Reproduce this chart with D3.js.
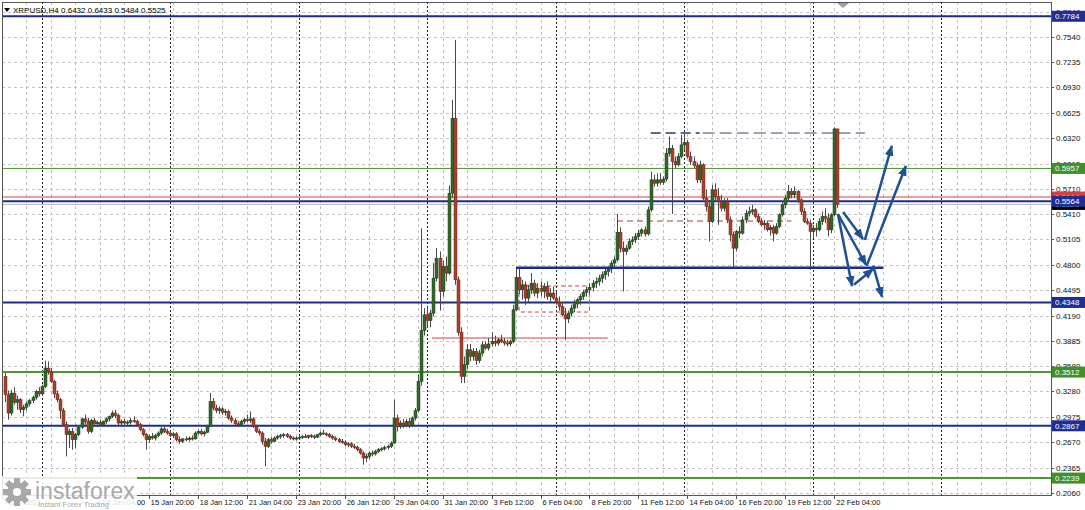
<!DOCTYPE html>
<html><head><meta charset="utf-8">
<script src="https://cdn.jsdelivr.net/npm/d3@7"></script>
<style>
body{margin:0;background:#fff;}
svg{display:block;}
text{font-family:"Liberation Sans",Arial,sans-serif;}
</style>
</head><body>
<svg id="c" width="1085" height="510"></svg>
<script>
// ---------------- DATA ----------------
const symbol = "XRPUSD,H4";
const open = [
.3460,.3240,.3020,.3260,.3150,.3180,.3060,.3090,.3130,.3170,
.3210,.3280,.3250,.3340,.3560,.3520,.3400,.3250,.3180,.3050,
.2880,.2760,.2800,.2700,.2760,.2850,.2950,.2920,.2800,.2930,
.2890,.2910,.2880,.2920,.2950,.2980,.3020,.2990,.2900,.2920,
.2900,.2910,.2930,.2920,.2880,.2820,.2760,.2700,.2740,.2720,
.2750,.2780,.2830,.2800,.2780,.2750,.2770,.2700,.2680,.2710,
.2700,.2720,.2710,.2780,.2800,.2770,.2790,.2860,.3160,.3080,
.3050,.3070,.3030,.3040,.2960,.2930,.2890,.2880,.2920,.2940,
.2930,.2950,.2860,.2800,.2780,.2680,.2620,.2700,.2680,.2720,
.2740,.2750,.2760,.2740,.2720,.2710,.2720,.2730,.2740,.2730,
.2750,.2740,.2730,.2760,.2780,.2770,.2760,.2740,.2720,.2700,
.2680,.2670,.2640,.2650,.2620,.2610,.2580,.2540,.2480,.2500,
.2540,.2530,.2560,.2580,.2590,.2610,.2620,.2660,.2960,.2860,
.2900,.2870,.2920,.2870,.2960,.3050,.3400,.4010,.4200,.4130,
.4220,.4640,.4880,.4480,.4780,.4700,.5660,.6560,.4620,.3990,
.3460,.3600,.3780,.3700,.3760,.3650,.3740,.3840,.3800,.3850,
.3880,.3860,.3900,.3880,.3860,.3850,.3880,.4260,.4650,.4500,
.4560,.4400,.4500,.4580,.4460,.4520,.4480,.4540,.4420,.4460,
.4400,.4350,.4300,.4200,.4150,.4220,.4280,.4330,.4380,.4420,
.4470,.4500,.4530,.4580,.4600,.4640,.4680,.4720,.4750,.4820,
.4860,.5190,.5000,.4960,.5000,.5080,.5100,.5140,.5180,.5220,
.5170,.5460,.5820,.5780,.5820,.5790,.5830,.6140,.6200,.6040,
.6000,.6100,.6240,.6270,.6100,.6040,.5990,.5820,.6000,.5600,
.5500,.5320,.5700,.5620,.5560,.5480,.5560,.5340,.5160,.5000,
.5200,.5180,.5340,.5420,.5440,.5460,.5380,.5320,.5280,.5300,
.5220,.5250,.5180,.5260,.5400,.5520,.5600,.5680,.5640,.5680,
.5580,.5440,.5320,.5300,.5200,.5240,.5220,.5320,.5380,.5360,
.5220,.5400,.6432];
const high = [
.3500,.3290,.3300,.3330,.3230,.3200,.3120,.3160,.3190,.3230,
.3300,.3330,.3360,.3650,.3640,.3560,.3420,.3290,.3200,.3080,
.2920,.2830,.2840,.2780,.2870,.2960,.3000,.2960,.2950,.2960,
.2930,.2940,.2930,.2970,.2990,.3050,.3060,.3010,.2940,.2950,
.2930,.2960,.2980,.2940,.2900,.2840,.2780,.2760,.2780,.2770,
.2800,.2850,.2860,.2830,.2810,.2790,.2790,.2740,.2720,.2740,
.2740,.2750,.2800,.2820,.2830,.2810,.2880,.3260,.3200,.3120,
.3100,.3090,.3070,.3060,.2990,.2960,.2920,.2940,.2960,.3000,
.3040,.2970,.2880,.2830,.2800,.2720,.2720,.2730,.2740,.2760,
.2770,.2780,.2780,.2760,.2740,.2740,.2750,.2760,.2770,.2760,
.2770,.2760,.2770,.2800,.2820,.2790,.2780,.2760,.2740,.2720,
.2710,.2690,.2670,.2670,.2650,.2630,.2600,.2560,.2530,.2560,
.2570,.2580,.2600,.2610,.2630,.2640,.2680,.3180,.3000,.2930,
.2950,.2950,.2960,.2980,.3080,.3480,.5240,.4280,.4300,.4260,
.4820,.5000,.4960,.4850,.4900,.5750,.6780,.7500,.4660,.4050,
.3700,.3850,.3850,.3800,.3800,.3780,.3880,.3880,.3920,.3990,
.3950,.3920,.3960,.3920,.3900,.3900,.4320,.4750,.4760,.4620,
.4600,.4560,.4700,.4620,.4580,.4600,.4580,.4600,.4520,.4540,
.4480,.4420,.4350,.4280,.4250,.4320,.4380,.4400,.4450,.4500,
.4540,.4580,.4620,.4650,.4680,.4720,.4760,.4780,.4850,.4900,
.5410,.5250,.5080,.5040,.5120,.5140,.5180,.5220,.5240,.5260,
.5500,.5920,.5880,.5900,.5900,.5860,.6200,.6340,.6240,.6100,
.6140,.6360,.6380,.6300,.6160,.6100,.6030,.6050,.6020,.5700,
.5580,.5760,.5780,.5720,.5640,.5600,.5600,.5380,.5200,.5220,
.5260,.5380,.5460,.5500,.5520,.5480,.5420,.5360,.5340,.5320,
.5280,.5280,.5300,.5420,.5560,.5640,.5760,.5720,.5740,.5700,
.5600,.5480,.5360,.5340,.5280,.5300,.5360,.5440,.5480,.5420,
.5420,.6450,.6433];
const low = [
.3150,.2940,.2990,.3120,.3060,.3020,.2980,.3050,.3100,.3140,
.3180,.3220,.3230,.3320,.3480,.3380,.3200,.3150,.2950,.2860,
.2500,.2600,.2580,.2600,.2740,.2830,.2880,.2770,.2780,.2860,
.2850,.2860,.2860,.2890,.2920,.2960,.2960,.2870,.2870,.2880,
.2870,.2880,.2900,.2860,.2800,.2740,.2580,.2660,.2700,.2690,
.2730,.2760,.2780,.2760,.2730,.2720,.2680,.2650,.2660,.2680,
.2680,.2690,.2700,.2760,.2750,.2740,.2780,.2850,.3050,.3020,
.3010,.3000,.2990,.2940,.2900,.2870,.2850,.2860,.2890,.2910,
.2900,.2840,.2780,.2750,.2640,.2380,.2600,.2650,.2670,.2700,
.2710,.2720,.2720,.2700,.2690,.2690,.2700,.2710,.2720,.2710,
.2720,.2710,.2720,.2740,.2760,.2740,.2720,.2700,.2680,.2660,
.2650,.2620,.2610,.2600,.2590,.2560,.2520,.2400,.2430,.2470,
.2500,.2510,.2540,.2560,.2570,.2580,.2600,.2650,.2800,.2830,
.2840,.2850,.2840,.2850,.2930,.3030,.3350,.3950,.4050,.4050,
.4180,.4600,.4250,.4420,.4600,.4680,.5600,.4560,.3950,.3380,
.3380,.3550,.3640,.3650,.3600,.3620,.3700,.3780,.3770,.3820,
.3820,.3830,.3860,.3830,.3820,.3820,.3860,.4240,.4450,.4380,
.4320,.4350,.4450,.4420,.4400,.4420,.4400,.4380,.4350,.4380,
.4320,.4250,.4180,.3900,.4100,.4180,.4230,.4280,.4320,.4380,
.4420,.4450,.4480,.4520,.4550,.4580,.4620,.4660,.4700,.4760,
.4840,.4950,.4480,.4920,.4980,.5040,.5060,.5100,.5140,.5140,
.5150,.5440,.5740,.5740,.5760,.5760,.5800,.6100,.5410,.5960,
.5980,.6080,.6180,.6080,.6000,.5960,.5780,.5780,.5560,.5440,
.5080,.5300,.5560,.5280,.5440,.5440,.5300,.5080,.4760,.4960,
.5120,.5160,.5300,.5380,.5400,.5360,.5300,.5260,.5220,.5200,
.5150,.5080,.5160,.5240,.5380,.5480,.5560,.5600,.5600,.5540,
.5400,.5300,.5280,.4740,.5120,.5140,.5200,.5280,.5300,.5140,
.5180,.5380,.5484];
const close = [
.3240,.3020,.3260,.3150,.3180,.3060,.3090,.3130,.3170,.3210,
.3280,.3250,.3340,.3560,.3520,.3400,.3250,.3180,.3050,.2880,
.2760,.2800,.2700,.2760,.2850,.2950,.2920,.2800,.2930,.2890,
.2910,.2880,.2920,.2950,.2980,.3020,.2990,.2900,.2920,.2900,
.2910,.2930,.2920,.2880,.2820,.2760,.2700,.2740,.2720,.2750,
.2780,.2830,.2800,.2780,.2750,.2770,.2700,.2680,.2710,.2700,
.2720,.2710,.2780,.2800,.2770,.2790,.2860,.3160,.3080,.3050,
.3070,.3030,.3040,.2960,.2930,.2890,.2880,.2920,.2940,.2930,
.2950,.2860,.2800,.2780,.2680,.2620,.2700,.2680,.2720,.2740,
.2750,.2760,.2740,.2720,.2710,.2720,.2730,.2740,.2730,.2750,
.2740,.2730,.2760,.2780,.2770,.2760,.2740,.2720,.2700,.2680,
.2670,.2640,.2650,.2620,.2610,.2580,.2540,.2480,.2500,.2540,
.2530,.2560,.2580,.2590,.2610,.2620,.2660,.2960,.2860,.2900,
.2870,.2920,.2870,.2960,.3050,.3400,.4010,.4200,.4130,.4220,
.4640,.4880,.4480,.4780,.4700,.5660,.6560,.4620,.3990,.3460,
.3600,.3780,.3700,.3760,.3650,.3740,.3840,.3800,.3850,.3880,
.3860,.3900,.3880,.3860,.3850,.3880,.4260,.4650,.4500,.4560,
.4400,.4500,.4580,.4460,.4520,.4480,.4540,.4420,.4460,.4400,
.4350,.4300,.4200,.4150,.4220,.4280,.4330,.4380,.4420,.4470,
.4500,.4530,.4580,.4600,.4640,.4680,.4720,.4750,.4820,.4860,
.5190,.5000,.4960,.5000,.5080,.5100,.5140,.5180,.5220,.5170,
.5460,.5820,.5780,.5820,.5790,.5830,.6140,.6200,.6040,.6000,
.6100,.6240,.6270,.6100,.6040,.5990,.5820,.6000,.5600,.5500,
.5320,.5700,.5620,.5560,.5480,.5560,.5340,.5160,.5000,.5200,
.5180,.5340,.5420,.5440,.5460,.5380,.5320,.5280,.5300,.5220,
.5250,.5180,.5260,.5400,.5520,.5600,.5680,.5640,.5680,.5580,
.5440,.5320,.5300,.5200,.5240,.5220,.5320,.5380,.5360,.5220,
.5400,.6432,.5525];

const priceTicks = ["0.7840","0.7540","0.7235","0.6930","0.6625","0.6320","0.6015","0.5710","0.5410","0.5105","0.4800","0.4495","0.4190","0.3885","0.3580","0.3280","0.2975","0.2670","0.2365","0.2060"];
const timeLabelBars = [-1,31,47,63,79,95,111,127,143,159,175,191,207,223,239,255,271];
const timeLabelTexts = ["7 Jan 2021","13 Jan 04:00","15 Jan 20:00","18 Jan 12:00","21 Jan 04:00","23 Jan 20:00","26 Jan 12:00","29 Jan 04:00","31 Jan 20:00","3 Feb 12:00","6 Feb 04:00","8 Feb 20:00","11 Feb 12:00","14 Feb 04:00","16 Feb 20:00","19 Feb 12:00","22 Feb 04:00"];
const weekSeparatorBars = [12,54,96,138,180,222,264,306];

const blueLevels = [0.7784, 0.5564, 0.4348, 0.2867];
const greenLevels = [0.5957, 0.3512, 0.2239];
const redLevel = 0.5614;
// segments [startBar, endBar, price]
const blueSegment = [167, 287, 0.4765];
const redSegment = [139.5, 197, 0.3921];
const redDashSegment = [200, 257, 0.5326];
const topDashDark = [211, 227, 0.6383];
const topDashLight = [228, 281, 0.6383];
const redBox = [168, 191, 0.4546, 0.4233];
// forecast arrows [fromBar, fromPrice, toBar, toPrice]
const arrows = [
 [273.9,0.5434,280.4,0.5110],
 [281.0,0.5098,289.8,0.6227],
 [272.2,0.5410,281.4,0.4798],
 [281.6,0.4790,294.4,0.5987],
 [272.2,0.5410,276.8,0.4546],
 [277.4,0.4560,283.7,0.4750],
 [283.7,0.4790,286.6,0.4414]
];

// ---------------- DRAW ----------------
const svg = d3.select("#c");
const L=2, R=1051, T=2, B=495;
const x = d3.scaleLinear().domain([0,272]).range([5, 5+272*3.06]);
const y = d3.scaleLinear().domain([0.2060,0.7840]).range([493,11.63]);
const NAVY="#1c2c8c", GREEN="#4a9a2e", RED="#d9403a", ARROW="#1f4f95";

svg.append("rect").attr("width",1085).attr("height",510).attr("fill","#fff");
svg.append("defs").append("clipPath").attr("id","plot")
  .append("rect").attr("x",L).attr("y",T).attr("width",R-L).attr("height",B-T);
const g = svg.append("g").attr("clip-path","url(#plot)");

// grid
const maxBar = x.invert(R);
const gridBars = d3.range(7, maxBar, 8);
g.selectAll(".vg").data(gridBars).join("line")
  .attr("x1",d=>Math.round(x(d))+0.5).attr("x2",d=>Math.round(x(d))+0.5)
  .attr("y1",T).attr("y2",B).attr("stroke","#c4c4c4").attr("stroke-dasharray","3,3");
g.selectAll(".hg").data(priceTicks).join("line")
  .attr("x1",L).attr("x2",R)
  .attr("y1",d=>Math.round(y(+d))+0.5).attr("y2",d=>Math.round(y(+d))+0.5)
  .attr("stroke","#c4c4c4").attr("stroke-dasharray","3,3");
// week separators
g.selectAll(".sep").data(weekSeparatorBars).join("line")
  .attr("x1",d=>Math.round(x(d))+0.5).attr("x2",d=>Math.round(x(d))+0.5)
  .attr("y1",T).attr("y2",B).attr("stroke","#222").attr("stroke-dasharray","2,2");

// level lines
g.append("line").attr("x1",L).attr("x2",R).attr("y1",y(redLevel)).attr("y2",y(redLevel))
  .attr("stroke",RED).attr("stroke-width",1);
g.append("line").attr("x1",L).attr("x2",R).attr("y1",y(close[close.length-1])).attr("y2",y(close[close.length-1]))
  .attr("stroke","#b8b8b8").attr("stroke-width",1);
g.selectAll(".gl").data(greenLevels).join("line")
  .attr("x1",L).attr("x2",R).attr("y1",d=>y(d)).attr("y2",d=>y(d))
  .attr("stroke",GREEN).attr("stroke-width",(d,i)=>i===0?1:2);
g.selectAll(".bl").data(blueLevels).join("line")
  .attr("x1",L).attr("x2",R).attr("y1",d=>y(d)).attr("y2",d=>y(d))
  .attr("stroke",NAVY).attr("stroke-width",2);

// segments
function seg(s,color,w,dash){
  g.append("line").attr("x1",x(s[0])).attr("x2",x(s[1])).attr("y1",y(s[2])).attr("y2",y(s[2]))
   .attr("stroke",color).attr("stroke-width",w).attr("stroke-dasharray",dash||null);
}
seg(redSegment,RED,1);
seg(redDashSegment,"#b03a30",1,"6,4");
seg(topDashDark,"#2a3580",1.5,"10,5");
seg(topDashLight,"#7a84b0",1.5,"12,5");
g.append("rect").attr("x",x(redBox[0])).attr("y",y(redBox[2]))
  .attr("width",x(redBox[1])-x(redBox[0])).attr("height",y(redBox[3])-y(redBox[2]))
  .attr("fill","none").attr("stroke",RED).attr("stroke-dasharray","4,3");

// candles
const idx = d3.range(open.length);
g.selectAll(".wick").data(idx).join("line")
  .attr("x1",i=>Math.round(x(i))+0.5).attr("x2",i=>Math.round(x(i))+0.5)
  .attr("y1",i=>y(high[i])).attr("y2",i=>y(low[i]))
  .attr("stroke","#4a4a4a").attr("stroke-width",1);
g.selectAll(".body").data(idx).join("rect")
  .attr("x",i=>Math.round(x(i))-1).attr("width",3)
  .attr("y",i=>y(Math.max(open[i],close[i])))
  .attr("height",i=>Math.max(1,Math.abs(y(open[i])-y(close[i]))))
  .attr("fill",i=>close[i]>=open[i]?"#2f6a2a":"#a8402c")
  .attr("stroke",i=>close[i]>=open[i]?"#1d3f1a":"#6a2a1c").attr("stroke-width",0.5);

// blue support segment over candles
seg(blueSegment,NAVY,2.5);

// arrows
const defs = svg.select("defs");
defs.append("marker").attr("id","ah").attr("viewBox","0 0 10 8").attr("refX",9).attr("refY",4)
  .attr("markerWidth",11).attr("markerHeight",9).attr("markerUnits","userSpaceOnUse").attr("orient","auto")
  .append("path").attr("d","M0,0 L10,4 L0,8 Z").attr("fill",ARROW);
g.selectAll(".arr").data(arrows).join("line")
  .attr("x1",d=>x(d[0])).attr("y1",d=>y(d[1])).attr("x2",d=>x(d[2])).attr("y2",d=>y(d[3]))
  .attr("stroke",ARROW).attr("stroke-width",2.5).attr("marker-end","url(#ah)");

// frame
svg.append("rect").attr("x",L+0.5).attr("y",T+0.5).attr("width",R-L).attr("height",B-T)
  .attr("fill","none").attr("stroke","#555").attr("stroke-width",1);

// chart shift marker
svg.append("path").attr("d","M837,3 L849,3 L843,8 Z").attr("fill","#a0a0a0");

// header
svg.append("path").attr("d","M4,8 L10,8 L7,12 Z").attr("fill","#000");
svg.append("text").attr("x",13).attr("y",13).attr("font-size",8).attr("fill","#000")
  .text(symbol+"  "+[open[272],high[272],low[272],close[272]].map(v=>v.toFixed(4)).join(" "));

// price axis
svg.selectAll(".pt").data(priceTicks).join("line")
  .attr("x1",R).attr("x2",R+3).attr("y1",d=>Math.round(y(+d))+0.5).attr("y2",d=>Math.round(y(+d))+0.5)
  .attr("stroke","#555");
svg.selectAll(".pl").data(priceTicks).join("text")
  .attr("x",1056).attr("y",d=>y(+d)+3).attr("font-size",8).attr("fill","#111").text(d=>d);

// time axis
svg.selectAll(".tt").data(timeLabelBars).join("line")
  .attr("x1",d=>Math.round(x(d))+0.5).attr("x2",d=>Math.round(x(d))+0.5)
  .attr("y1",B).attr("y2",B+4).attr("stroke","#555");
svg.selectAll(".tl").data(timeLabelBars).join("text")
  .attr("x",d=>x(d)+2).attr("y",505).attr("font-size",7.5).attr("fill","#111")
  .text((d,i)=>timeLabelTexts[i]);

// badges
function badge(p,bg,txt){
  const cy=y(p);
  svg.append("rect").attr("x",1052).attr("y",cy-5.5).attr("width",33).attr("height",11).attr("fill",bg);
  svg.append("text").attr("x",1055).attr("y",cy+3).attr("font-size",8).attr("fill","#fff").text(txt);
}
badge(redLevel,RED,redLevel.toFixed(4));
badge(close[272],"#000",close[272].toFixed(4));
blueLevels.forEach(p=>badge(p,"#1f2e96",p.toFixed(4)));
greenLevels.forEach(p=>badge(p,"#3f8f2a",p.toFixed(4)));

// logo
const lg = svg.append("g");
lg.append("rect").attr("x",0).attr("y",476).attr("width",137).attr("height",34).attr("fill","#fff").attr("opacity",0.85);
const gear = lg.append("g").attr("transform","translate(17,492)");
gear.selectAll("rect").data(d3.range(8)).join("rect")
  .attr("x",-3).attr("y",-14).attr("width",6).attr("height",7)
  .attr("transform",d=>`rotate(${d*45})`).attr("fill","#a8a8a8");
gear.append("circle").attr("r",10).attr("fill","#a8a8a8");
gear.append("circle").attr("r",4).attr("fill","#fff");
lg.append("text").attr("x",35).attr("y",499).attr("font-size",23).attr("fill","#a8a8a8")
  .attr("font-family","Open Sans, sans-serif").text("instaforex");
lg.append("text").attr("x",38).attr("y",507).attr("font-size",7.5).attr("fill","#a8a8a8").text("Instant Forex Trading");
</script>
</body></html>
